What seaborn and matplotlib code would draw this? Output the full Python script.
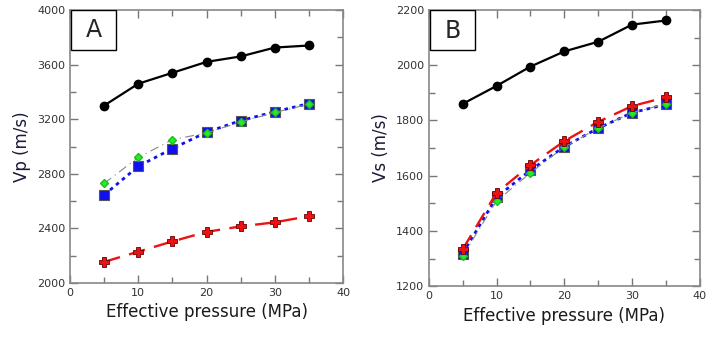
import numpy as np
import pandas as pd
import matplotlib
matplotlib.use("Agg")
import matplotlib.pyplot as plt
import seaborn as sns
from matplotlib.ticker import MultipleLocator

pressure = [5, 10, 15, 20, 25, 30, 35]

vp_black = [3300, 3460, 3540, 3620, 3660, 3725, 3740]
vp_blue = [2645, 2855, 2985, 3105, 3190, 3255, 3315]
vp_green = [2730, 2920, 3050, 3100, 3180, 3250, 3310]
vp_red = [2155, 2230, 2305, 2375, 2415, 2445, 2490]

vs_black = [1860, 1925, 1995, 2050, 2085, 2147, 2162]
vs_blue = [1318, 1522, 1620, 1705, 1772, 1828, 1858]
vs_green = [1309, 1508, 1610, 1704, 1772, 1828, 1860]
vs_red = [1333, 1538, 1638, 1725, 1795, 1852, 1884]

panel_labels = ["A", "B"]
y_labels = ["Vp (m/s)", "Vs (m/s)"]
x_label = "Effective pressure (MPa)"

sns.set_style("white")
plt.rcParams['font.family'] = ['DejaVu Sans']

fig = plt.figure(figsize=(7.17, 3.39), dpi=100)
axA = fig.add_axes([0.0976, 0.165, 0.381, 0.8055])
axB = fig.add_axes([0.598, 0.156, 0.378, 0.8145])

styles = [
    dict(color="black", marker="o", linestyle="-", lw=1.6, ms=6, mec="black", mfc="black"),
    dict(color="#1010ee", marker="s", linestyle=(0, (1.3, 1.5)), lw=2.0, ms=6.5, mec="#555555", mfc="#1010ee", mew=0.8),
    dict(color="#888888", marker="D", linestyle=(0, (8, 4, 1, 4)), lw=0.8, ms=4.5, mec="#22bb22", mfc="#22ee22"),
    dict(color="#ee1111", marker="P", linestyle=(0, (7, 4)), lw=1.7, ms=7.5, mec="#660000", mfc="#ee1111", mew=0.6),
]

def draw(ax, series, ylim, ymaj, label, ylab):
    for s, st in zip(series, styles):
        df = pd.DataFrame({"p": pressure, "v": s})
        st = dict(st)
        sns.lineplot(data=df, x="p", y="v", ax=ax, color=st.pop("color"),
                     marker=st.pop("marker"), linestyle=st.pop("linestyle"),
                     linewidth=st.pop("lw"), markersize=st.pop("ms"),
                     markeredgecolor=st.pop("mec"), markerfacecolor=st.pop("mfc"),
                     markeredgewidth=st.pop("mew", 1.0), zorder=3)
    ax.set_xlim(0, 40)
    ax.set_ylim(*ylim)
    ax.xaxis.set_major_locator(MultipleLocator(10))
    ax.xaxis.set_minor_locator(MultipleLocator(5))
    ax.yaxis.set_major_locator(MultipleLocator(ymaj))
    ax.yaxis.set_minor_locator(MultipleLocator(ymaj / 2))
    ax.tick_params(which="both", direction="in", top=True, right=True, bottom=True, left=True,
                   colors="#777777", labelcolor="#333333", labelsize=8)
    ax.tick_params(which="major", length=6, width=1)
    ax.tick_params(which="minor", length=4, width=1)
    for sp in ax.spines.values():
        sp.set_color("#888888")
        sp.set_linewidth(1.2)
        sp.set_visible(True)
    ax.set_xlabel(x_label, fontsize=12, color="#1a1a1a", labelpad=4)
    ax.set_ylabel(ylab, fontsize=12, color="#1a1a3a", labelpad=4)
    rect = plt.Rectangle((0.005, 0.855), 0.165, 0.145, transform=ax.transAxes, fill=True,
                         facecolor="white", edgecolor="black", lw=1.0, zorder=4)
    ax.add_patch(rect)
    ax.text(0.088, 0.925, label, transform=ax.transAxes, fontsize=17, ha="center", va="center",
            zorder=5)

draw(axA, [vp_black, vp_blue, vp_green, vp_red], (2000, 4000), 400, panel_labels[0], y_labels[0])
draw(axB, [vs_black, vs_blue, vs_green, vs_red], (1200, 2200), 200, panel_labels[1], y_labels[1])

fig.savefig("out.png", dpi=100)
